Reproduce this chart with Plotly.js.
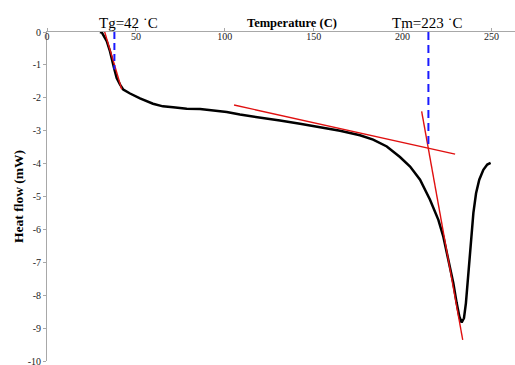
<!DOCTYPE html>
<html>
<head>
<meta charset="utf-8">
<script src="https://cdn.plot.ly/plotly-3.0.1.min.js"></script>
<style>html,body{margin:0;padding:0;background:#fff;}#chart{width:515px;height:365px;}</style>
</head>
<body>
<div id="chart"></div>
<script>
// DSC curve: temperature (C) vs heat flow (mW)
var temperature = [29.8, 30.9, 33.6, 35.4, 37.7, 39.2, 41.1, 42.9, 46.7, 52.3, 59.6, 65.2, 70.9, 78.6, 86.1, 93.4, 101.1, 108.5, 119.8, 131.0, 142.3, 153.5, 164.8, 176.0, 183.4, 191.1, 198.5, 204.2, 209.8, 215.4, 220.1, 222.9, 225.7, 228.5, 230.4, 231.9, 233.2, 234.5, 235.6, 236.6, 237.5, 238.5, 239.8, 241.3, 243.1, 245.4, 247.6, 249.5];
var heatFlow    = [0, -0.02, -0.28, -0.58, -1.09, -1.40, -1.60, -1.75, -1.87, -2.02, -2.18, -2.26, -2.29, -2.33, -2.34, -2.38, -2.43, -2.51, -2.59, -2.69, -2.79, -2.89, -3.00, -3.14, -3.27, -3.48, -3.80, -4.09, -4.49, -5.10, -5.71, -6.22, -6.93, -7.63, -8.24, -8.65, -8.83, -8.70, -8.24, -7.63, -6.93, -6.22, -5.50, -4.90, -4.49, -4.19, -4.03, -3.98];

// tangent construction lines
var tgTangentT  = [30.8, 42.0];
var tgTangentHF = [0.30, -1.74];
var baselineT   = [105.2, 229.5];
var baselineHF  = [-2.22, -3.71];
var meltTangentT  = [210.7, 233.8];
var meltTangentHF = [-2.41, -9.36];

// transition markers
var tgMarkT  = [37.9, 37.9];
var tgMarkHF = [0, -1.14];
var tmMarkT  = [214.5, 214.5];
var tmMarkHF = [0, -3.49];

var tgLabel = "Tg=42 \u02D9C";
var tmLabel = "Tm=223 \u02D9C";
var tgLabelX = 45.6;
var tmLabelX = 214.0;

var xTicks = [0, 50, 100, 150, 200, 250];
var yTicks = [0, -1, -2, -3, -4, -5, -6, -7, -8, -9, -10];

var serif = "Liberation Serif, Times New Roman, serif";

var traces = [
  {x: temperature, y: heatFlow, mode: "lines", line: {color: "#000", width: 2.5, shape: "linear"}, hoverinfo: "skip"},
  {x: tgTangentT, y: tgTangentHF, mode: "lines", line: {color: "#e01010", width: 1.4}},
  {x: baselineT, y: baselineHF, mode: "lines", line: {color: "#e01010", width: 1.4}},
  {x: meltTangentT, y: meltTangentHF, mode: "lines", line: {color: "#e01010", width: 1.4}},
  {x: tgMarkT, y: tgMarkHF, mode: "lines", line: {color: "#1a1aff", width: 2, dash: "7px,4px"}},
  {x: tmMarkT, y: tmMarkHF, mode: "lines", line: {color: "#1a1aff", width: 2, dash: "8px,5px"}}
];

var layout = {
  width: 515, height: 365,
  margin: {l: 47, r: 0, t: 32, b: 4, pad: 0},
  paper_bgcolor: "#fff", plot_bgcolor: "#fff",
  showlegend: false,
  font: {family: serif, color: "#000"},
  xaxis: {
    range: [0, 263.2], side: "top", showgrid: false, zeroline: false,
    showline: true, linecolor: "#a8a8a8", linewidth: 1,
    ticks: "outside", ticklen: 3, tickcolor: "#a8a8a8",
    tickvals: xTicks, ticktext: xTicks.map(String),
    ticklabelposition: "inside", ticklabeloverflow: "allow",
    tickfont: {family: serif, size: 10, color: "#222"},
    title: {text: "&nbsp;&nbsp;&nbsp;&nbsp;&nbsp;&nbsp;&nbsp;<b>Temperature (C)</b>", font: {family: serif, size: 12.5, color: "#000"}, standoff: 0}
  },
  yaxis: {
    range: [-10, 0], showgrid: false, zeroline: false,
    showline: true, linecolor: "#a8a8a8", linewidth: 1,
    ticks: "outside", ticklen: 3, tickcolor: "#a8a8a8",
    tickvals: yTicks, ticktext: yTicks.map(String),
    ticklabeloverflow: "allow",
    tickfont: {family: serif, size: 10, color: "#222"},
    title: {text: "<b>Heat flow (mW)</b>", font: {family: serif, size: 13.5, color: "#000"}, standoff: 0}
  },
  annotations: [
    {x: tgLabelX, y: 1.027, xref: "x", yref: "paper", text: tgLabel, showarrow: false, xanchor: "center", yanchor: "middle", font: {family: serif, size: 15, color: "#000"}},
    {x: tmLabelX, y: 1.027, xref: "x", yref: "paper", text: tmLabel, showarrow: false, xanchor: "center", yanchor: "middle", font: {family: serif, size: 15, color: "#000"}}
  ]
};

Plotly.newPlot("chart", traces, layout, {displayModeBar: false, staticPlot: true});
</script>
</body>
</html>
